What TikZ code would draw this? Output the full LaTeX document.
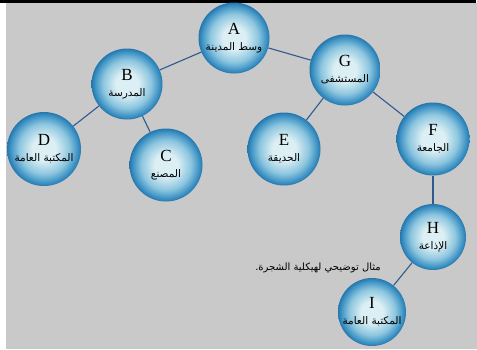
\documentclass[tikz,border=0pt]{standalone}
\usepackage{fontspec}
\setmainfont{Liberation Serif}
\newfontfamily\arabicfont[Script=Arabic]{DejaVu Sans}
\TeXXeTstate=1
\usetikzlibrary{positioning}

\definecolor{panelgray}{HTML}{C9C9C9}
\definecolor{ballin}{HTML}{DCEFF4}
\definecolor{ballmid}{HTML}{8DC6DF}
\definecolor{ballout}{HTML}{3A90C3}
\definecolor{balledge}{HTML}{2676AC}
\definecolor{linkblue}{HTML}{2F5A8F}
\pgfdeclareradialshading{ballshade}{\pgfpoint{0bp}{0bp}}{color(0bp)=(ballin); color(8bp)=(ballin); color(17bp)=(ballmid); color(23bp)=(ballout); color(25bp)=(balledge); color(50bp)=(balledge)}

\newcommand{\arab}[1]{{\arabicfont\fontsize{10.5}{11}\selectfont\beginR #1\endR}}

\begin{document}
\begin{tikzpicture}[
    x=1pt, y=-1pt,
    place/.style={circle, minimum size=71pt, inner sep=0pt, shading=ballshade, align=center, font=\fontsize{17}{16}\selectfont},
    link/.style={draw=linkblue, line width=1.1pt}
]

    % Frame of the picture
    \useasboundingbox (0,0) rectangle (477,349);
    \fill[panelgray] (6,3) rectangle (477,349);
    \fill[black] (0,0) rectangle (476,3);

    % Tree nodes
    \node[place] (downtown) at (234,38) {A\\\arab{وسط المدينة}};
    \node[place] (school) at (127,84) {B\\\arab{المدرسة}};
    \node[place] (hospital) at (345,70) {G\\\arab{المستشفى}};
    \node[place, minimum size=74pt] (library) at (44,149) {D\\\arab{المكتبة العامة}};
    \node[place, minimum size=73pt] (factory) at (166,165) {C\\\arab{المصنع}};
    \node[place, minimum size=73pt] (park) at (284,149) {E\\\arab{الحديقة}};
    \node[place, minimum size=73pt] (university) at (433,139) {F\\\arab{الجامعة}};
    \node[place, minimum size=66pt] (radio) at (433,237) {H\\\arab{الإذاعة}};
    \node[place, minimum size=68pt] (library2) at (372,312) {I\\\arab{المكتبة العامة}};

    % Caption
    \node[font=\arabicfont\fontsize{10}{12}\selectfont] (caption) at (318,268) {\beginR مثال توضيحي لهيكلية الشجرة.\endR};

    % Branches
    \draw[link] (downtown) -- (school);
    \draw[link] (downtown) -- (hospital);
    \draw[link] (school) -- (library);
    \draw[link] (school) -- (factory);
    \draw[link] (hospital) -- (park);
    \draw[link] (hospital) -- (university);
    \draw[link] (university) -- (radio);
    \draw[link] (radio) -- (library2);

\end{tikzpicture}
\end{document}
